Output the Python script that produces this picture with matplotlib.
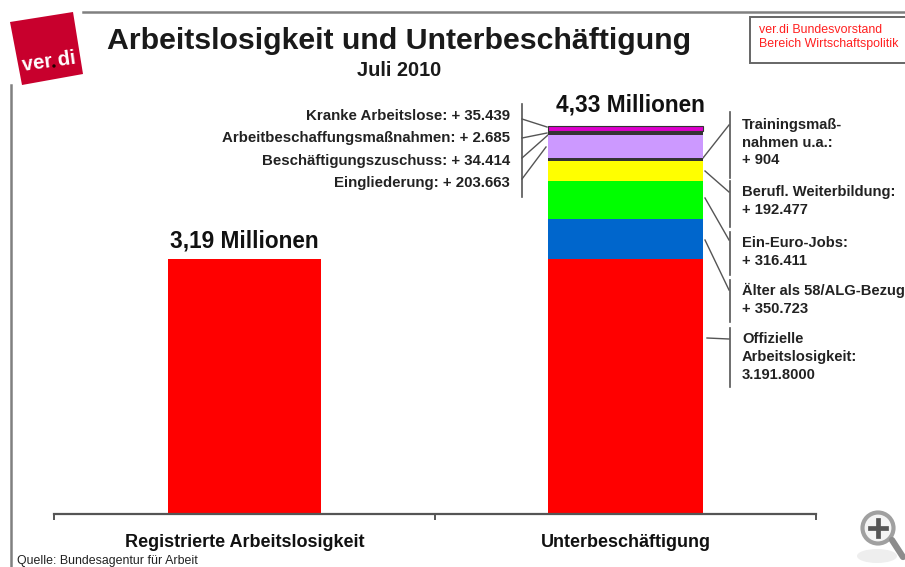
import matplotlib
matplotlib.use("Agg")
import matplotlib.pyplot as plt
from matplotlib.patches import Polygon, Rectangle, Circle, Ellipse

plt.rcParams["font.family"] = ["Liberation Sans", "DejaVu Sans"]

# values in thousands, heights as drawn in the picture
kategorien = ["Registrierte Arbeitslosigkeit", "Unterbeschäftigung"]
summen = ["3,19 Millionen", "4,33 Millionen"]
registriert = [3191.8]
segmente = [3191.8, 500, 475, 250, 37, 288, 50, 65]
farben = ["#ff0000", "#0066cc", "#00ff00", "#ffff00", "#333333", "#cc99ff", "#333333", "#dd00cc"]

labels_links = [
    "Kranke Arbeitslose: + 35.439",
    "Arbeitbeschaffungsmaßnahmen: + 2.685",
    "Beschäftigungszuschuss: + 34.414",
    "Eingliederung: + 203.663",
]
labels_rechts = [
    ["Trainingsmaß-", "nahmen u.a.:", "+ 904"],
    ["Berufl. Weiterbildung:", "+ 192.477"],
    ["Ein-Euro-Jobs:", "+ 316.411"],
    ["Älter als 58/ALG-Bezug", "+ 350.723"],
    ["Offizielle", "Arbeitslosigkeit:", "3.191.8000"],
]

B, H = 905, 567
fig = plt.figure(figsize=(B / 100, H / 100), dpi=100)

# overlay in pixel coordinates for frame, logo and leader lines
deko = fig.add_axes([0, 0, 1, 1])
deko.set_xlim(0, B)
deko.set_ylim(H, 0)
deko.axis("off")

# chart axes: baseline at y=514, 5000 units = 399.4 px
ax = fig.add_axes([54 / B, (H - 514) / H, (816 - 54) / B, 399.4 / H])
ax.patch.set_alpha(0)
ax.set_xlim(-0.5, 1.5)
ax.set_ylim(0, 5000)

ax.bar(0, registriert[0], width=0.404, color=farben[0])
unten = 0
for wert, farbe in zip(segmente, farben):
    ax.bar(1, wert, width=0.407, bottom=unten, color=farbe)
    unten += wert
oben = unten
# thin dark edge round the magenta cap
ax.bar(1, segmente[-1], width=0.407, bottom=oben - segmente[-1], color=farben[-1],
       edgecolor="#333333", linewidth=0.8)

ax.text(0, registriert[0] + 85, summen[0], ha="center", va="bottom", fontsize=16.3,
        fontweight="bold", color="#111111")
ax.text(1.012, oben + 125, summen[1], ha="center", va="bottom", fontsize=16.3,
        fontweight="bold", color="#111111")

for s in ["top", "left", "right"]:
    ax.spines[s].set_visible(False)
ax.spines["bottom"].set_color("#555555")
ax.spines["bottom"].set_linewidth(1.6)
ax.set_yticks([])
ax.set_xticks([-0.5, 0.5, 1.5])
ax.set_xticklabels([])
ax.tick_params(axis="x", length=4, width=1.4, color="#555555")
for x, name in enumerate(kategorien):
    ax.annotate(name, (x, 0), xytext=(0, -14.5), textcoords="offset points", ha="center",
                va="top", fontsize=13, fontweight="bold", color="#111111")

# frame
deko.plot([83, 905], [12, 12], color="#808080", lw=1.8)
deko.plot([11, 11], [85, 567], color="#808080", lw=1.8)
deko.add_patch(Rectangle((749.5, 16.5), 165, 46, fc="white", ec="#666666", lw=1.4))
deko.text(759, 30, "ver.di Bundesvorstand", color="#ff2020", fontsize=8.9, va="center")
deko.text(759, 44, "Bereich Wirtschaftspolitik", color="#ff2020", fontsize=8.9, va="center")

# logo
deko.add_patch(Polygon([(10, 22), (73, 12), (83, 74), (22, 85)], fc="#c8002d", ec="none"))
deko.text(49, 62, "ver di", color="white", fontsize=14.5, fontweight="bold", rotation=8,
          ha="center", va="center")
deko.add_patch(Circle((54, 66), 1.7, fc="#220000", ec="none"))

# title
deko.text(399, 41, "Arbeitslosigkeit und Unterbeschäftigung", ha="center", va="center",
          fontsize=21.8, fontweight="bold", color="#1a1a1a")
deko.text(399, 70, "Juli 2010", ha="center", va="center", fontsize=14.4,
          fontweight="bold", color="#1a1a1a")

# labels left of the stack
for y, txt in zip([116, 138, 161, 183], labels_links):
    deko.text(510, y, txt, ha="right", va="center", fontsize=10.8, fontweight="bold",
              color="#222222")
deko.plot([522, 522], [104, 197], color="#555555", lw=1.2)
for x0, y0, x1, y1 in [(522, 119, 547, 127), (522, 138, 547, 133),
                       (522, 158, 548, 135), (522, 179, 546, 147)]:
    deko.plot([x0, x1], [y0, y1], color="#555555", lw=1)

# labels right of the stack
zeilen_y = [[125, 143, 160], [192, 210], [243, 261], [290, 309], [339, 357, 375]]
for ys, zeilen in zip(zeilen_y, labels_rechts):
    for y, txt in zip(ys, zeilen):
        deko.text(742, y, txt, ha="left", va="center", fontsize=10.6, fontweight="bold",
                  color="#222222")
for y0, y1 in [(112, 178), (181, 227), (232, 275), (280, 322), (328, 387)]:
    deko.plot([729.5, 729.5], [y0, y1], color="#555555", lw=1.2)
for x0, y0, x1, y1 in [(703, 158, 729, 125), (705, 171, 729, 192), (705, 198, 729, 240),
                       (705, 240, 729, 290), (707, 338, 729, 339)]:
    deko.plot([x0, x1], [y0, y1], color="#555555", lw=1)

deko.text(17, 561, "Quelle: Bundesagentur für Arbeit", fontsize=8.9, va="center",
          color="#222222")

# magnifier icon
deko.add_patch(Ellipse((877, 556), 40, 14, fc="#eeeeee", ec="none"))
deko.plot([892, 903], [540, 557], color="#8c8c8c", lw=4.5, solid_capstyle="round")
deko.add_patch(Circle((878, 528), 15.5, fc="#f4f4f4", ec="#a0a0a0", lw=3))
deko.plot([870, 886], [528, 528], color="#555555", lw=3.4)
deko.plot([878, 878], [520, 536], color="#555555", lw=3.4)

fig.savefig("out.png", dpi=100)
